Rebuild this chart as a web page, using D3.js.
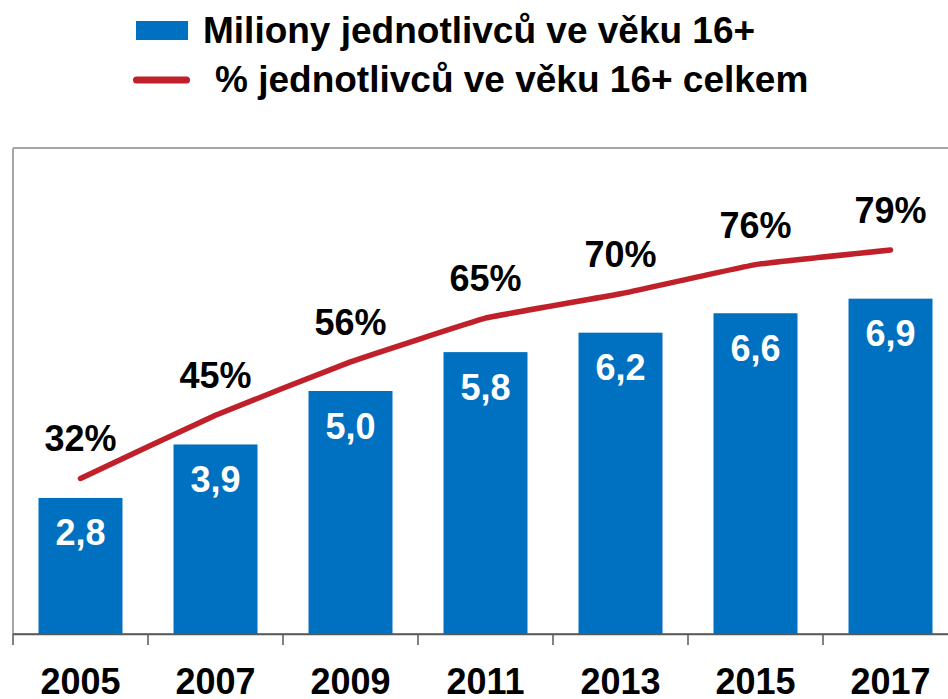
<!DOCTYPE html>
<html><head><meta charset="utf-8">
<script src="https://cdn.jsdelivr.net/npm/d3@7"></script>
<style>
html,body{margin:0;padding:0;background:#fff;}
svg{display:block;font-family:"Liberation Sans",Arial,sans-serif;font-weight:bold;}
</style></head>
<body>
<svg id="chart" width="948" height="699"></svg>
<script>
const years = ["2005","2007","2009","2011","2013","2015","2017"];
const millions = [2.8, 3.9, 5.0, 5.8, 6.2, 6.6, 6.9];
const percents = [32, 45, 56, 65, 70, 76, 79];
const barLabels = ["2,8","3,9","5,0","5,8","6,2","6,6","6,9"];
const legendLabels = ["Miliony jednotlivců ve věku 16+", "% jednotlivců ve věku 16+ celkem"];

(function () {
const blue = "#0070C0", red = "#C0202A";
const svg = d3.select("#chart");
const pLeft = 13, pRight = 958, pTop = 148, pBottom = 634;

const x = d3.scaleBand().domain(years).range([pLeft, pRight]).paddingInner(0.378).paddingOuter(0.189);
const xTick = d3.scaleBand().domain(years).range([pLeft, pRight]).padding(0);
const y = d3.scaleLinear().domain([0, 10]).range([pBottom, pTop]);
const y2 = d3.scaleLinear().domain([0, 100]).range([pBottom, pTop]);

// plot frame: top and left
svg.append("line").attr("x1", pLeft).attr("x2", 948).attr("y1", pTop).attr("y2", pTop)
  .attr("stroke", "#A6A6A6").attr("stroke-width", 2);
svg.append("line").attr("x1", pLeft).attr("x2", pLeft).attr("y1", pTop).attr("y2", pBottom)
  .attr("stroke", "#A6A6A6").attr("stroke-width", 2);

// bars
svg.selectAll("rect.bar").data(millions).enter().append("rect")
  .attr("class", "bar")
  .attr("x", (d, i) => x(years[i]))
  .attr("width", x.bandwidth())
  .attr("y", d => y(d))
  .attr("height", d => y(0) - y(d))
  .attr("fill", blue);

// x axis
const xAxis = d3.axisBottom(xTick).tickSize(0).tickFormat("");
const gx = svg.append("g").attr("transform", `translate(0,${pBottom})`).call(xAxis);
gx.select(".domain").attr("stroke", "#595959").attr("stroke-width", 1.5);
const bounds = years.map(d => xTick(d));
svg.selectAll("line.tk").data(bounds).enter().append("line")
  .attr("x1", d => d).attr("x2", d => d).attr("y1", pBottom).attr("y2", pBottom + 11)
  .attr("stroke", "#595959").attr("stroke-width", 1.5);
svg.append("line").attr("x1", pLeft).attr("x2", 948).attr("y1", pBottom).attr("y2", pBottom)
  .attr("stroke", "#595959").attr("stroke-width", 1.5);

svg.selectAll("text.xl").data(years).enter().append("text")
  .attr("x", d => xTick(d) + xTick.bandwidth() / 2)
  .attr("y", 694)
  .attr("text-anchor", "middle").attr("font-size", 36).attr("fill", "#000")
  .text(d => d);

// bar labels
svg.selectAll("text.bl").data(millions).enter().append("text")
  .attr("x", (d, i) => x(years[i]) + x.bandwidth() / 2)
  .attr("y", d => y(d) + 47.5)
  .attr("text-anchor", "middle").attr("font-size", 36).attr("fill", "#fff")
  .text((d, i) => barLabels[i]);

// line
const line = d3.line()
  .x((d, i) => xTick(years[i]) + xTick.bandwidth() / 2)
  .y(d => y2(d))
  .curve(d3.curveCardinal.tension(0.75));
svg.append("path").datum(percents).attr("d", line)
  .attr("fill", "none").attr("stroke", red).attr("stroke-width", 5.5)
  .attr("stroke-linecap", "round").attr("stroke-linejoin", "round");

svg.selectAll("text.pl").data(percents).enter().append("text")
  .attr("x", (d, i) => xTick(years[i]) + xTick.bandwidth() / 2)
  .attr("y", d => y2(d) - 27)
  .attr("text-anchor", "middle").attr("font-size", 36).attr("fill", "#000")
  .text(d => d + "%");

// legend
svg.append("rect").attr("x", 136).attr("y", 21).attr("width", 52).attr("height", 19).attr("fill", blue);
svg.append("text").attr("x", 203).attr("y", 42.5).attr("font-size", 37).attr("fill", "#000")
  .text(legendLabels[0]);
svg.append("line").attr("x1", 136.5).attr("x2", 186.5).attr("y1", 80).attr("y2", 80)
  .attr("stroke", red).attr("stroke-width", 7).attr("stroke-linecap", "round");
svg.append("text").attr("x", 215).attr("y", 92).attr("font-size", 37).attr("fill", "#000")
  .text(legendLabels[1]);
})();
</script>
</body></html>
